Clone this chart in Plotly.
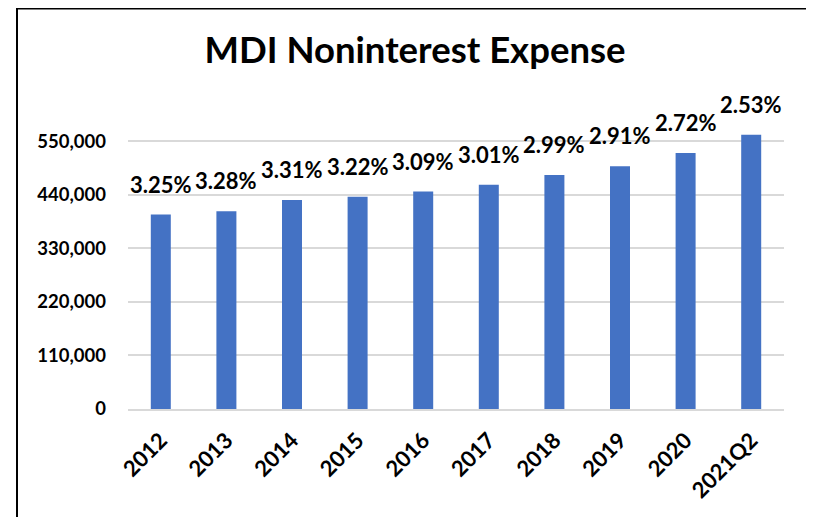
import plotly.graph_objects as go

categories = ["2012", "2013", "2014", "2015", "2016", "2017", "2018", "2019", "2020", "2021Q2"]
expense = [399500, 406300, 429700, 435900, 446800, 461000, 480900, 498700, 526000, 563500]
pct_labels = ["3.25%", "3.28%", "3.31%", "3.22%", "3.09%", "3.01%", "2.99%", "2.91%", "2.72%", "2.53%"]
ytick_vals = [0, 110000, 220000, 330000, 440000, 550000]
ytick_text = ["0", "110,000", "220,000", "330,000", "440,000", "550,000"]

FONT = "Lato"
# page body has an 8px margin, figure pixel = screen pixel - 8
W, H = 806, 509
L, R, T, B = 120, 30, 109, 108
pw, ph = W - L - R, H - T - B


def px(x):
    return (x - L) / pw


def py(y):
    return (H - B - y) / ph


fig = go.Figure()
fig.add_trace(go.Bar(
    x=categories, y=expense,
    marker=dict(color="#4472C4", line=dict(width=0)),
    width=0.305,
    hoverinfo="skip",
))

# annotations on a category axis are positioned by category index
for i, (v, t) in enumerate(zip(expense, pct_labels)):
    fig.add_annotation(x=i, y=v, xref="x", yref="y", text=t, showarrow=False, yanchor="bottom",
                       yshift=15, font=dict(family=FONT, size=22, color="black", weight="bold"))

fig.add_shape(type="rect", xref="paper", yref="paper",
              x0=px(9), x1=px(802), y0=py(560), y1=py(0.5),
              line=dict(color="black", width=2), fillcolor="rgba(0,0,0,0)", layer="above")

fig.update_layout(
    width=W, height=H,
    margin=dict(l=L, r=R, t=T, b=B, autoexpand=False),
    paper_bgcolor="white", plot_bgcolor="white",
    showlegend=False,
    title=dict(text="<b>MDI Noninterest Expense</b>", x=407 / W, xanchor="center",
               y=1 - 42 / H, yanchor="middle", yref="container",
               font=dict(family=FONT, size=36.5, color="black")),
    xaxis=dict(type="category", tickangle=-45, range=[-0.5, len(categories) - 0.5],
               tickfont=dict(family=FONT, size=22, color="black", weight="bold"),
               showgrid=False, showline=True, linecolor="#D9D9D9", linewidth=1.5, ticks="",
               ticklabelstandoff=8),
    yaxis=dict(range=[0, 600000], tickvals=ytick_vals, ticktext=ytick_text,
               tickfont=dict(family=FONT, size=18.5, color="black", weight="bold"),
               showgrid=True, gridcolor="#D9D9D9", gridwidth=1.5, zeroline=False,
               showline=False, ticks="", ticklabelstandoff=21),
)

fig.write_html("out.html")
